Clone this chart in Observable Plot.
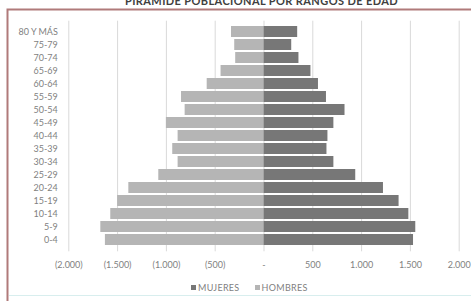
<!DOCTYPE html>
<html>
<head>
<meta charset="utf-8">
<script src="https://cdn.jsdelivr.net/npm/d3@7"></script>
<script src="https://cdn.jsdelivr.net/npm/@observablehq/plot@0.6"></script>
<style>
  html, body { margin: 0; padding: 0; background: #fff; }
  #wrap { position: relative; width: 471px; height: 301px; overflow: hidden; font-family: Lato, "Open Sans", sans-serif; }
  #chart { position: absolute; left: 0; top: 0; z-index: 1; }
  #title { position: absolute; left: 0; width: 471px; top: -6px; text-align: center; font-size: 11px; font-weight: bold; color: #404040; letter-spacing: 0.4px; white-space: nowrap; padding-left: 52px; box-sizing: border-box; z-index: 3; }
  #legend { position: absolute; left: 191px; top: 282px; font-size: 9px; color: #7f7f7f; white-space: nowrap; letter-spacing: 0.3px; z-index: 3; }
  #legend span.sw { display: inline-block; width: 5px; height: 5px; margin-right: 2px; vertical-align: 1px; }
  #legend span.item { margin-right: 15px; }
</style>
</head>
<body>
<div id="wrap">
  <div id="chart"></div>
  <div id="title">PIRÁMIDE POBLACIONAL POR RANGOS DE EDAD</div>
  <div id="legend"></div>
</div>
<script>
const ageGroups = ["80 Y MÁS","75-79","70-74","65-69","60-64","55-59","50-54","45-49","40-44","35-39","30-34","25-29","20-24","15-19","10-14","5-9","0-4"];
const hombres = [333,300,290,440,582,845,808,1000,880,935,880,1078,1385,1500,1570,1672,1625];
const mujeres = [345,284,358,481,558,640,830,716,655,645,716,940,1224,1384,1484,1555,1532];
const seriesNames = ["MUJERES","HOMBRES"];
const seriesColors = ["#777777","#b5b5b5"];
const xTicks = [-2000,-1500,-1000,-500,0,500,1000,1500,2000];

const data = ageGroups.map((age, i) => ({age, hombres: hombres[i], mujeres: mujeres[i]}));
const fmt = v => d3.format(",")(v).replace(/,/g, ".");
const tickFmt = d => d === 0 ? "-" : d < 0 ? `(${fmt(-d)})` : fmt(d);

const plot = Plot.plot({
  width: 471,
  height: 301,
  marginLeft: 68.3,
  marginRight: 12.3,
  marginTop: 20.7,
  marginBottom: 49.7,
  style: {background: "transparent", fontFamily: "Lato, 'Open Sans', sans-serif", fontSize: "9px", color: "#7f7f7f"},
  x: {domain: [-2000, 2000], ticks: xTicks, tickFormat: tickFmt, grid: false, label: null},
  y: {domain: ageGroups, padding: 0.15, label: null},
  marks: [
    Plot.gridX(xTicks, {stroke: "#d9d9d9", strokeOpacity: 1, strokeWidth: 1}),
    Plot.barX(data, {y: "age", x1: 0, x2: d => -d.hombres, fill: seriesColors[1]}),
    Plot.barX(data, {y: "age", x1: 0, x2: d => d.mujeres, fill: seriesColors[0]}),
    Plot.axisX({ticks: xTicks, tickFormat: tickFmt, tickSize: 0, tickPadding: 10, fontSize: 9, fill: "#7f7f7f", label: null}),
    Plot.axisY({tickSize: 0, tickPadding: 11, fontSize: 9, fill: "#7f7f7f", label: null})
  ]
});
document.getElementById("chart").appendChild(plot);

// decorative chart-area border (Excel chart frame), appended to the SVG
const svg = d3.select(plot);
const W = 471, H = 301;
const frameG = svg.append("g").attr("class", "chart-frame");
frameG.append("path").attr("d", `M7.5,${H} V9.5 H${W}`).attr("fill", "none").attr("stroke", "#b07a7a").attr("stroke-width", 2);
frameG.append("path").attr("d", `M9,${H - 5.5} H${W}`).attr("fill", "none").attr("stroke", "#d8eeee").attr("stroke-width", 1);

const legend = document.getElementById("legend");
seriesNames.forEach((name, i) => {
  const item = document.createElement("span");
  item.className = "item";
  const sw = document.createElement("span");
  sw.className = "sw";
  sw.style.background = seriesColors[i];
  item.appendChild(sw);
  item.appendChild(document.createTextNode(name));
  legend.appendChild(item);
});
</script>
</body>
</html>
